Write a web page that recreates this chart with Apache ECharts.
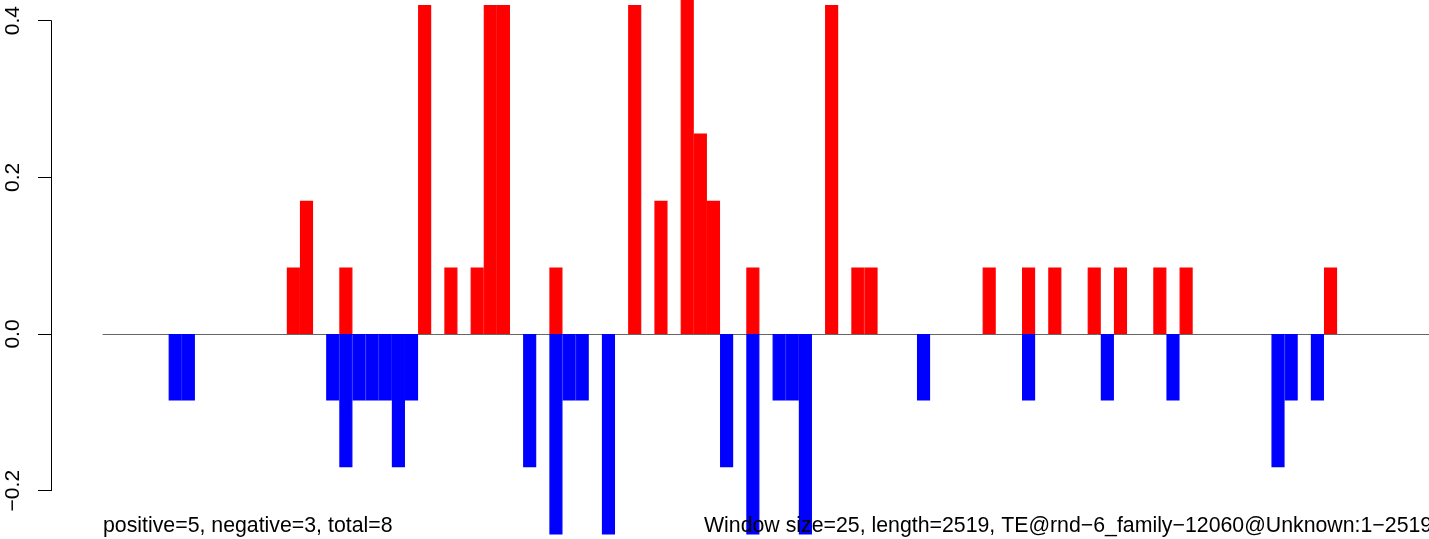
<!DOCTYPE html>
<html>
<head>
<meta charset="utf-8">
<script src="https://cdn.jsdelivr.net/npm/echarts@6/dist/echarts.min.js"></script>
<style>
html,body{margin:0;padding:0;background:#fff;}
#chart{width:1429px;height:539px;}
</style>
</head>
<body>
<div id="chart"></div>
<script>
// ---- data ----
const windowSize = 25;
const seqLength = 2519;
const windowCount = 101;
// windows (0-based index) with a positive value, and their values
const posWindows = [14,15,18,24,26,28,29,30,34,40,42,44,45,46,49,55,57,58,67,70,72,75,77,80,82,93];
const posValues  = [0.085,0.17,0.085,0.42,0.085,0.085,0.42,0.42,0.085,0.42,0.17,0.5,0.256,0.17,0.085,0.42,0.085,0.085,0.085,0.085,0.085,0.085,0.085,0.085,0.085,0.085];
// windows with a negative value, and their values
const negWindows = [5,6,17,18,19,20,21,22,23,32,34,35,36,38,47,49,51,52,53,62,70,76,81,89,90,92];
const negValues  = [-0.085,-0.085,-0.085,-0.17,-0.085,-0.085,-0.085,-0.17,-0.085,-0.17,-0.256,-0.085,-0.085,-0.256,-0.17,-0.256,-0.085,-0.085,-0.256,-0.085,-0.085,-0.085,-0.085,-0.17,-0.085,-0.085];
const yTicks = [-0.2, 0.0, 0.2, 0.4];
const leftNote = 'positive=5, negative=3, total=8';
const rightNote = 'Window size=25, length=2519, TE@rnd\u22126_family\u221212060@Unknown:1\u22122519';

// ---- build series arrays ----
const categories = [];
for (let i = 0; i < windowCount; i++) categories.push(String(i * windowSize + 1));
const posData = new Array(windowCount).fill(null);
posWindows.forEach((w, k) => { posData[w] = posValues[k]; });
const negData = new Array(windowCount).fill(null);
negWindows.forEach((w, k) => { negData[w] = negValues[k]; });

const FONT = '"Liberation Sans", Arial, Helvetica, sans-serif';
const pxPerUnit = 470 / 0.6;      // 0.6 data units over 470 px
const zeroY = 334;
const chartH = 539;

const chart = echarts.init(document.getElementById('chart'), null, {renderer: 'canvas'});
chart.setOption({
  animation: false,
  backgroundColor: '#ffffff',
  grid: [
    {left: 103, top: 0, width: 1330, height: chartH},
    {left: 51, top: zeroY - 0.4 * pxPerUnit, width: 1, height: 0.6 * pxPerUnit}
  ],
  xAxis: [
    {
      gridIndex: 0, type: 'category', data: categories,
      axisLine: {show: true, onZero: true, lineStyle: {color: '#666666', width: 1}},
      axisTick: {show: false}, axisLabel: {show: false}, splitLine: {show: false}
    },
    {gridIndex: 1, type: 'value', show: false}
  ],
  yAxis: [
    {
      gridIndex: 0, type: 'value',
      min: -(chartH - zeroY) / pxPerUnit, max: zeroY / pxPerUnit,
      show: false, splitLine: {show: false}
    },
    {
      gridIndex: 1, type: 'value', min: yTicks[0], max: yTicks[yTicks.length - 1], interval: 0.2,
      axisLine: {show: true, lineStyle: {color: '#000000', width: 1}},
      axisTick: {show: true, length: 13, inside: false, lineStyle: {color: '#000000', width: 1}},
      splitLine: {show: false},
      axisLabel: {
        show: true, rotate: 90, margin: 27, fontSize: 21, fontFamily: FONT, color: '#000000',
        formatter: v => (v < 0 ? '\u2212' : '') + Math.abs(v).toFixed(1)
      }
    }
  ],
  series: [
    {
      type: 'bar', xAxisIndex: 0, yAxisIndex: 0, data: posData,
      barCategoryGap: '0%', barGap: '-100%',
      itemStyle: {color: '#ff0000', borderColor: '#ff0000', borderWidth: 1.2}, clip: true
    },
    {
      type: 'bar', xAxisIndex: 0, yAxisIndex: 0, data: negData,
      barCategoryGap: '0%', barGap: '-100%',
      itemStyle: {color: '#0000ff', borderColor: '#0000ff', borderWidth: 1.2}, clip: true
    }
  ],
  graphic: [
    {type: 'text', z: 100, left: 103, top: 516,
     style: {text: leftNote, fontSize: 21.3, fontFamily: FONT, fill: '#000000'}},
    {type: 'text', z: 100, left: 704, top: 516,
     style: {text: rightNote, fontSize: 21.3, fontFamily: FONT, fill: '#000000'}}
  ]
});
</script>
</body>
</html>
